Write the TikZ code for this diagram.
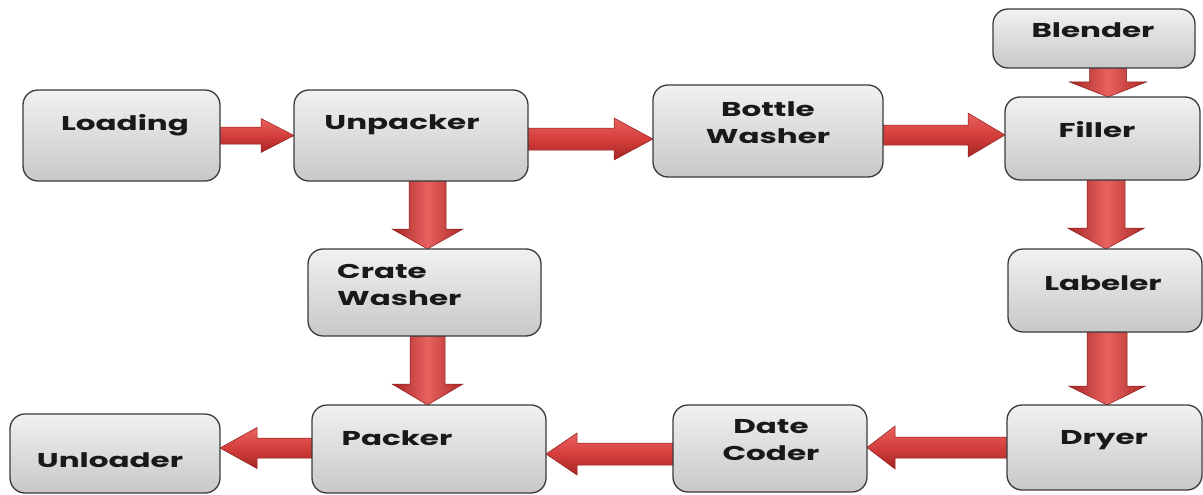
\documentclass[tikz,border=0pt]{standalone}
\usepackage{fontspec}
\setmainfont{Poppins}
\usetikzlibrary{calc,backgrounds}

\definecolor{boxtop}{HTML}{F1F1F1}
\definecolor{boxbot}{HTML}{C8C8C8}
\definecolor{boxline}{HTML}{3A3A3A}
\definecolor{arrlight}{HTML}{E8625F}
\definecolor{arrmid}{HTML}{D43E3B}
\definecolor{arrdark}{HTML}{A52624}
\definecolor{arrline}{HTML}{8E1C1C}

\tikzset{
  procbox/.style={draw=boxline, line width=1.3pt, rounded corners=15pt,
    top color=boxtop, bottom color=boxbot, inner sep=0pt, outer sep=0pt},
  lbl/.style={font=\fontsize{20}{27}\selectfont\bfseries, text=black!90,
    inner sep=0pt},
  harrow/.style={draw=arrline, line width=0.5pt, line join=miter,
    top color=arrlight, bottom color=arrdark, middle color=arrmid},
  varrow/.style={draw=arrline, line width=0.5pt, line join=miter,
    left color=arrdark, right color=arrdark!90!arrmid, middle color=arrlight},
}

% horizontally stretched label text
\newcommand\sx[1]{\scalebox{1.55}[1]{#1}}

% process box from its corner coordinates: name, x1, y1, x2, y2
\newcommand\procnode[5]{%
  \node[procbox, minimum width={(#4-#2)*1pt}, minimum height={(#5-#3)*1pt}]
    (#1) at ({(#2+#4)/2},{(#3+#5)/2}) {};}

% block arrow: style, start, tip, shaft half width, head half width, head length
\newcommand\blockarrow[6]{%
  \coordinate (hb) at ($(#3)!#6!(#2)$);
  \path[#1] ($(#2)!#4!90:(#3)$) -- ($(hb)!#4!90:(#3)$) -- ($(hb)!#5!90:(#3)$)
    -- (#3) -- ($(hb)!#5!-90:(#3)$) -- ($(hb)!#4!-90:(#3)$)
    -- ($(#2)!#4!-90:(#3)$) -- cycle;}

\begin{document}
\begin{tikzpicture}[x=1pt,y=-1pt]
\useasboundingbox (0,0) rectangle (1203,495);

% process stations
\procnode{load}{23}{90}{220}{181}
\procnode{unp}{294}{90}{528}{181}
\procnode{bottle}{653}{85}{883}{177}
\procnode{filler}{1005}{97}{1200}{180}
\procnode{blender}{993}{9}{1195}{68}
\procnode{crate}{308}{249}{541}{336}
\procnode{label}{1008}{249}{1202}{332}
\procnode{dryer}{1007}{405}{1202}{490}
\procnode{date}{673}{405}{867}{492}
\procnode{packer}{312}{405}{546}{493}
\procnode{unload}{10}{414}{220}{493}

% station names
\node[lbl] at (125,125) {\sx{Loading}};
\node[lbl] at (402,125) {\sx{Unpacker}};
\node[lbl, align=center] at (768,123) {\sx{Bottle}\\\sx{Washer}};
\node[lbl] at (1093,30) {\sx{Blender}};
\node[lbl] at (1097,130) {\sx{Filler}};
\node[lbl, align=left, anchor=west] at (337,285) {\sx{Crate}\\\sx{Washer}};
\node[lbl] at (1103,283) {\sx{Labeler}};
\node[lbl] at (1104,440) {\sx{Dryer}};
\node[lbl, align=center] at (771,440) {\sx{Date}\\\sx{Coder}};
\node[lbl] at (397,438) {\sx{Packer}};
\node[lbl] at (110,460) {\sx{Unloader}};

% material flow
\begin{scope}[on background layer]
\blockarrow{harrow}{load.east}{unp.west}{8.5pt}{17pt}{33pt}
\blockarrow{harrow}{unp.east |- 0,139}{bottle.west |- 0,139}{11pt}{21pt}{39pt}
\blockarrow{harrow}{bottle.east |- 0,135}{filler.west |- 0,135}{10pt}{22pt}{37pt}
\blockarrow{varrow}{blender.south -| 1108,0}{filler.north -| 1108,0}{18.5pt}{38.5pt}{15pt}
\blockarrow{varrow}{filler.south -| 1106,0}{label.north -| 1106,0}{19pt}{38.5pt}{21pt}
\blockarrow{varrow}{label.south -| 1107,0}{dryer.north -| 1107,0}{20pt}{38.5pt}{19pt}
\blockarrow{harrow}{dryer.west |- 0,447.5}{date.east |- 0,447.5}{10.5pt}{21.5pt}{28pt}
\blockarrow{harrow}{date.west |- 0,454}{packer.east |- 0,454}{11pt}{21pt}{31pt}
\blockarrow{harrow}{packer.west |- 0,448}{unload.east |- 0,448}{10pt}{20.5pt}{37pt}
\blockarrow{varrow}{unp.south -| 427.5,0}{crate.north -| 427.5,0}{18.5pt}{35.5pt}{20pt}
\blockarrow{varrow}{crate.south -| 427.5,0}{packer.north -| 427.5,0}{17.5pt}{35.5pt}{21pt}
\end{scope}
\end{tikzpicture}
\end{document}
